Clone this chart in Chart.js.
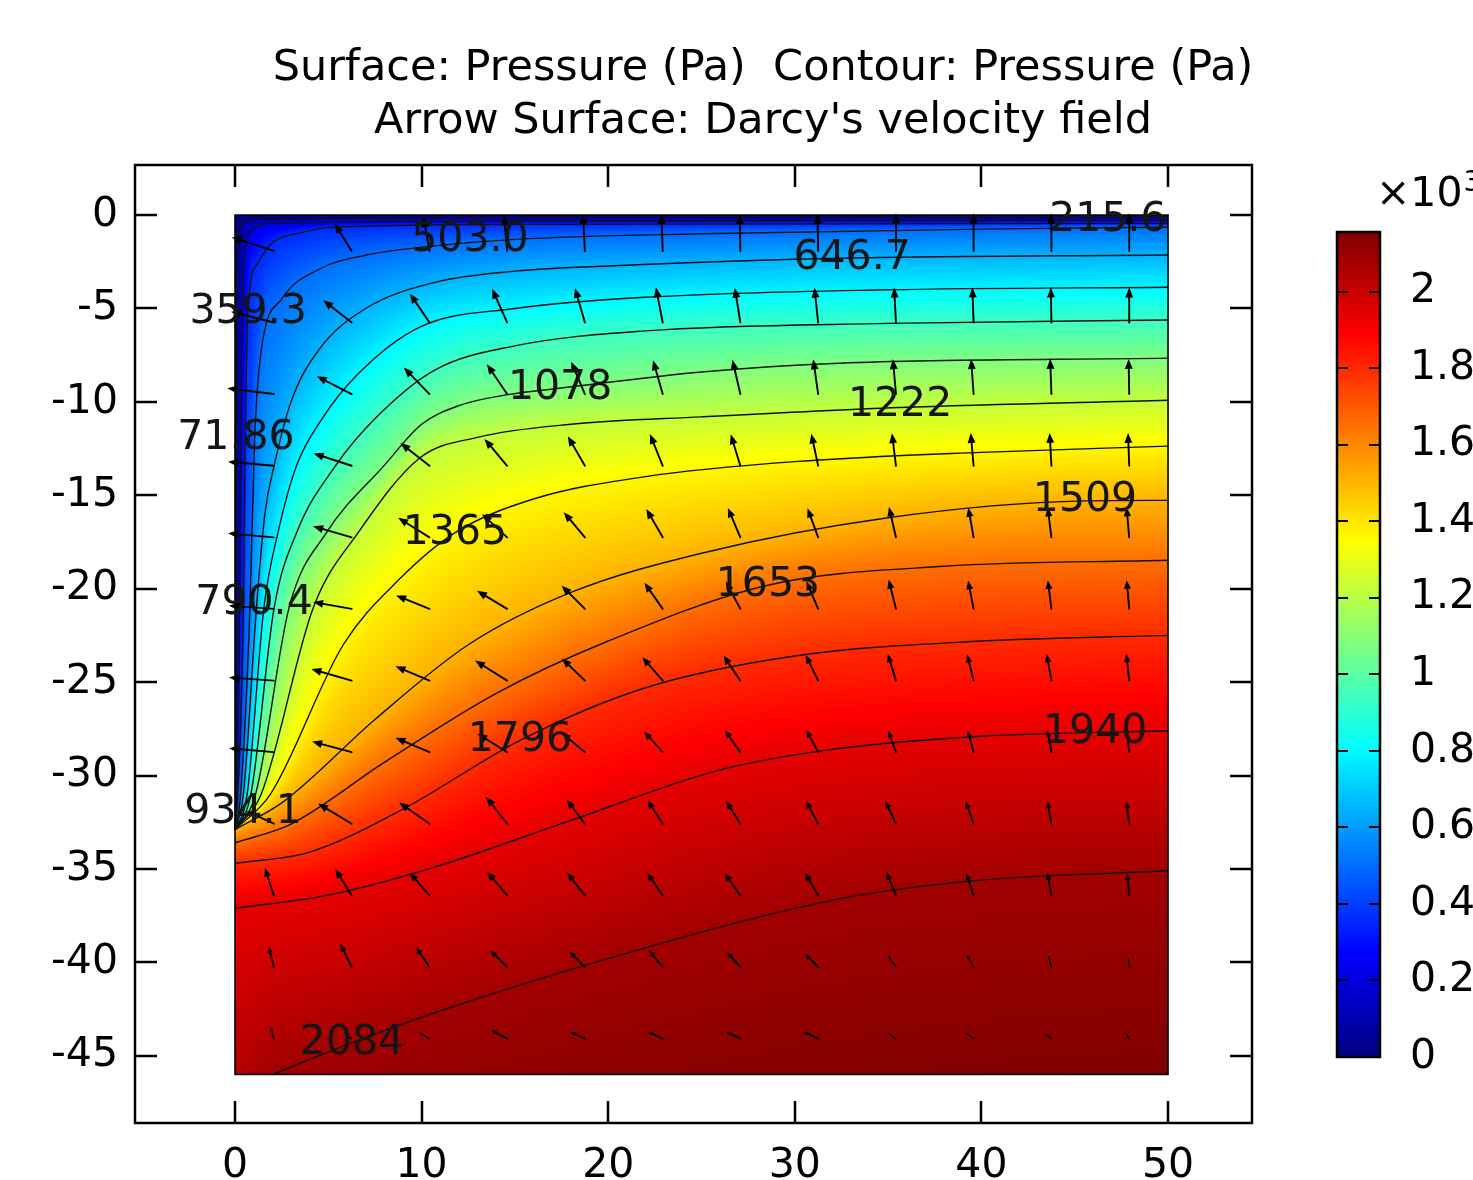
<!DOCTYPE html>
<html><head><meta charset="utf-8">
<script src="https://cdn.jsdelivr.net/npm/chart.js@4.4.0/dist/chart.umd.min.js"></script>
<style>html,body{margin:0;padding:0;background:#fff;overflow:hidden}canvas{display:block}</style>
</head><body>
<canvas id="c" width="1473" height="1180" style="width:1473px;height:1180px"></canvas>
<script>
// ================= DATA =================
const titleLines = ["Surface: Pressure (Pa)  Contour: Pressure (Pa)", "Arrow Surface: Darcy's velocity field"];
const xTicks = [0, 10, 20, 30, 40, 50];
const yTicks = [0, -5, -10, -15, -20, -25, -30, -35, -40, -45];
const xRange = [-5.36, 54.5];
const yRange = [-48.6, 2.68];
const domainX = [0, 50];
const domainY = [-46, 0];
const pressureRange = [0, 2156];
const cbTicks = [0, 0.2, 0.4, 0.6, 0.8, 1, 1.2, 1.4, 1.6, 1.8, 2];
const cbExponent = 3;
// boundary values
const topBoundaryP = 0;
const bottomX = [0, 2.1, 10, 20, 30, 40, 50];
const bottomP = [2040, 2084, 2108, 2128, 2142, 2150, 2155];
// contour levels and paths [x, y]
const contourLevels = [71.86, 215.6, 359.3, 503.0, 646.7, 790.4, 934.1, 1078, 1222, 1365, 1509, 1653, 1796, 1940, 2084];
const c0072 = [[0,-32.9],[0.03,-31],[0.08,-21],[0.1,-12],[0.13,-4],[0.2,-1.2],[0.45,-0.35],[2,-0.2],[20,-0.15],[50,-0.12]];
const c0216 = [[0,-32.9],[0.08,-31],[0.25,-21],[0.32,-12],[0.4,-5],[0.55,-2],[0.9,-0.8],[2,-0.45],[15,-0.32],[50,-0.27]];
const c0359 = [[0,-32.9],[0.15,-31],[0.45,-21],[0.55,-12],[0.7,-5],[1.2,-2.6],[2,-1.5],[3.5,-0.95],[5.2,-0.66],[15,-0.5],[50,-0.45]];
const c0503 = [[0,-32.9],[0.3,-31],[0.8,-21],[1.05,-12],[1.4,-7.3],[2.5,-4.5],[4.5,-2.9],[7,-2.15],[10.7,-1.65],[15,-1.3],[25,-1.0],[40,-0.75],[50,-0.65]];
const c0647 = [[0,-32.9],[0.45,-31],[1.15,-21],[1.6,-16],[2.1,-13.4],[3,-10],[4.5,-7.2],[7,-5],[10.7,-3.6],[15,-3.0],[20.6,-2.7],[33,-2.3],[50,-2.14]];
const c0790 = [[0,-32.9],[0.65,-31],[1.55,-21],[2.3,-17],[3.3,-13.4],[4.6,-11],[6.6,-8.5],[9.9,-6.0],[15,-5.0],[22,-4.4],[35,-4.0],[50,-3.86]];
const c0934 = [[0,-32.9],[0.85,-31],[2.1,-21],[3.3,-17],[5.4,-13.4],[7.6,-10.8],[10.7,-8.3],[15,-7.0],[22,-6.2],[35,-5.8],[50,-5.62]];
const c1078 = [[0,-32.9],[1.1,-31],[2.9,-21],[4.9,-17],[8.0,-13.4],[10,-11.2],[12,-10.2],[14.7,-9.6],[17.4,-9.27],[25,-8.4],[32.4,-7.93],[50,-7.66]];
const c1222 = [[0,-32.9],[1.4,-31],[4.2,-21],[6.6,-17],[9.9,-13.0],[13,-11.9],[18,-11.2],[25,-10.8],[35.6,-10.3],[50,-9.91]];
const c1365 = [[0,-32.9],[1.9,-31],[5.8,-23],[8.8,-19.5],[11.8,-17.0],[16,-15.2],[22,-14.0],[30,-13.2],[40,-12.7],[50,-12.37]];
const c1509 = [[0,-32.9],[2.6,-31.4],[7.5,-27],[12.5,-23],[18,-20.2],[25,-18.1],[35,-16.2],[45.5,-15.3],[50,-15.27]];
const c1653 = [[0,-33.6],[3,-32.6],[8,-29.3],[14,-25.6],[20,-22.8],[28.6,-19.8],[38,-18.8],[50,-18.48]];
const c1796 = [[0,-34.7],[4,-34.1],[9,-31.8],[15.3,-28.1],[22,-25.3],[30,-23.6],[40,-22.8],[50,-22.5]];
const c1940 = [[0,-37.1],[5,-36.4],[10.7,-34.9],[18,-32.4],[26,-29.7],[32,-28.6],[40,-27.9],[50,-27.6]];
const c2084 = [[2.1,-45.96],[6.3,-44.3],[10.7,-42.7],[20,-39.8],[32.4,-36.6],[40,-35.6],[50,-35.1]];
const contourPaths = [c0072, c0216, c0359, c0503, c0647, c0790, c0934, c1078, c1222, c1365, c1509, c1653, c1796, c1940, c2084];
// contour labels (text, anchor x, anchor y)
const labelText = ["503.0", "646.7", "215.6", "359.3", "71.86", "1078", "1222", "1365", "1509", "1653", "790.4", "1796", "1940", "934.1", "2084"];
const labelX = [12.59, 33.07, 46.78, 0.70, 0.05, 17.42, 35.64, 11.79, 45.55, 28.56, 1.02, 15.27, 46.09, 0.43, 6.27];
const labelY = [-1.34, -2.30, -0.27, -5.20, -11.94, -9.27, -10.18, -17.03, -15.27, -19.82, -20.78, -28.12, -27.69, -31.98, -44.35];
// Darcy velocity arrows: tails on a 12 x 12 grid; direction (deg, 90 = up) and relative magnitude
const arrowX = [2.08, 6.25, 10.42, 14.58, 18.75, 22.92, 27.08, 31.25, 35.42, 39.58, 43.75, 47.92];
const arrowY = [-1.92, -5.75, -9.58, -13.42, -17.25, -21.08, -24.92, -28.75, -32.58, -36.42, -40.25, -44.08];
const arrowAngle = [
  [162,122,100, 95, 93, 92, 91, 91, 90, 90, 90, 90],
  [166,142,124,114,106,101, 99, 96, 93, 92, 91, 90],
  [173,153,134,124,113,106,103, 98, 95, 94, 92, 91],
  [175,162,142,130,120,112,107,102, 97, 95, 93, 92],
  [175,164,148,137,130,120,113,110,103,100, 97, 95],
  [176,170,158,149,135,125,118,113,104,101, 97, 95],
  [176,164,157,148,136,131,124,116,107,104,100, 96],
  [175,165,157,148,140,132,125,118,110,105,100, 96],
  [155,149,145,128,127,123,122,118,115,109,100, 97],
  [108,122,131,130,128,125,125,120,112,108,100, 95],
  [104,116,124,135,135,130,132,135,125,120,105, 95],
  [105,140,150,152,155,155,155,155,145,145,145,120]
];
const arrowMag = [
  [0.98,0.71,0.76,0.80,0.82,0.82,0.82,0.82,0.84,0.84,0.84,0.84],
  [0.98,0.80,0.78,0.82,0.80,0.80,0.78,0.78,0.78,0.78,0.78,0.78],
  [1.04,0.87,0.82,0.80,0.78,0.78,0.78,0.78,0.78,0.78,0.78,0.78],
  [1.02,0.89,0.82,0.78,0.76,0.76,0.73,0.73,0.73,0.73,0.73,0.73],
  [1.02,0.89,0.82,0.76,0.73,0.73,0.71,0.69,0.69,0.67,0.67,0.67],
  [1.00,0.87,0.80,0.78,0.73,0.71,0.69,0.67,0.67,0.64,0.64,0.64],
  [1.00,0.93,0.82,0.84,0.71,0.69,0.67,0.64,0.62,0.60,0.60,0.60],
  [1.00,0.91,0.82,0.78,0.67,0.62,0.60,0.56,0.51,0.49,0.49,0.47],
  [0.67,0.87,0.82,0.76,0.67,0.62,0.60,0.58,0.56,0.53,0.51,0.51],
  [0.64,0.69,0.67,0.69,0.64,0.60,0.60,0.58,0.56,0.53,0.51,0.49],
  [0.47,0.58,0.53,0.53,0.49,0.49,0.44,0.40,0.31,0.31,0.27,0.22],
  [0.27,0.22,0.27,0.40,0.36,0.36,0.36,0.36,0.22,0.22,0.18,0.11]
];

// ================= RENDERING =================
const FONT_FAMILY = '"DejaVu Sans", "Liberation Sans", sans-serif';
const TEXT_SIZE = 41;
Chart.defaults.font.family = FONT_FAMILY;
Chart.defaults.color = '#000';

function jet(t) {
  t = Math.max(0, Math.min(1, t));
  const c = v => Math.max(0, Math.min(1, v));
  return [c(1.5 - Math.abs(4 * t - 3)) * 255, c(1.5 - Math.abs(4 * t - 2)) * 255, c(1.5 - Math.abs(4 * t - 1)) * 255];
}
// same monotone cubic that Chart.js uses for cubicInterpolationMode:'monotone'
function monotone(pts) {
  const n = pts.length, X = pts.map(p => p[0]), Y = pts.map(p => p[1]);
  const d = new Array(n).fill(0), m = new Array(n);
  for (let i = 0; i < n; i++) {
    if (i < n - 1) { const dx = X[i + 1] - X[i]; d[i] = dx !== 0 ? (Y[i + 1] - Y[i]) / dx : 0; }
    m[i] = i === 0 ? d[0] : i === n - 1 ? d[n - 2] : (Math.sign(d[i - 1]) !== Math.sign(d[i]) ? 0 : (d[i - 1] + d[i]) / 2);
  }
  for (let i = 0; i < n - 1; i++) {
    if (Math.abs(d[i]) < 1e-12) { m[i] = m[i + 1] = 0; continue; }
    const a = m[i] / d[i], b = m[i + 1] / d[i], s = a * a + b * b;
    if (s <= 9) continue;
    const tau = 3 / Math.sqrt(s);
    m[i] = a * tau * d[i]; m[i + 1] = b * tau * d[i];
  }
  return { X, Y, m };
}
function evalCurve(c, x) {
  const { X, Y, m } = c, n = X.length;
  if (x < X[0] || x > X[n - 1]) return null;
  let i = 0; while (i < n - 2 && x > X[i + 1]) i++;
  const h = X[i + 1] - X[i]; if (h <= 0) return Y[i];
  const t = (x - X[i]) / h, t2 = t * t, t3 = t2 * t;
  return (2 * t3 - 3 * t2 + 1) * Y[i] + (t3 - 2 * t2 + t) * h * m[i] + (-2 * t3 + 3 * t2) * Y[i + 1] + (t3 - t2) * h * m[i + 1];
}
function lerpArr(xs, ys, x) {
  if (x <= xs[0]) return ys[0];
  for (let i = 0; i < xs.length - 1; i++) if (x <= xs[i + 1]) return ys[i] + (ys[i + 1] - ys[i]) * (x - xs[i]) / (xs[i + 1] - xs[i]);
  return ys[ys.length - 1];
}
const curves = contourPaths.map(monotone);

const heatmapPlugin = {
  id: 'heatmap',
  beforeDatasetsDraw(chart) {
    const ctx = chart.ctx, xs = chart.scales.x, ys = chart.scales.y;
    const px0 = Math.round(xs.getPixelForValue(domainX[0])), px1 = Math.round(xs.getPixelForValue(domainX[1]));
    const py0 = Math.round(ys.getPixelForValue(domainY[1])), py1 = Math.round(ys.getPixelForValue(domainY[0]));
    const w = px1 - px0, h = py1 - py0;
    const off = document.createElement('canvas'); off.width = w; off.height = h;
    const octx = off.getContext('2d'); const img = octx.createImageData(w, h);
    const span = pressureRange[1] - pressureRange[0];
    for (let i = 0; i < w; i++) {
      const x = xs.getValueForPixel(px0 + i + 0.5);
      const nodes = [[domainY[1], topBoundaryP]];
      curves.forEach((c, k) => { const y = evalCurve(c, x); if (y !== null) nodes.push([y, contourLevels[k]]); });
      nodes.push([domainY[0], lerpArr(bottomX, bottomP, x)]);
      nodes.sort((a, b) => b[0] - a[0]);
      let j = 0;
      for (let r = 0; r < h; r++) {
        const y = ys.getValueForPixel(py0 + r + 0.5);
        while (j < nodes.length - 2 && y < nodes[j + 1][0]) j++;
        const a = nodes[j], b = nodes[j + 1];
        let t = b[0] === a[0] ? 0 : (y - a[0]) / (b[0] - a[0]);
        t = Math.max(0, Math.min(1, t));
        const p = a[1] + t * (b[1] - a[1]);
        const col = jet((p - pressureRange[0]) / span);
        const o = (r * w + i) * 4;
        img.data[o] = col[0]; img.data[o + 1] = col[1]; img.data[o + 2] = col[2]; img.data[o + 3] = 255;
      }
    }
    octx.putImageData(img, 0, 0);
    ctx.drawImage(off, px0, py0);
  }
};

const overlayPlugin = {
  id: 'overlay',
  afterDatasetsDraw(chart) {
    const ctx = chart.ctx, xs = chart.scales.x, ys = chart.scales.y;
    ctx.save();
    ctx.strokeStyle = '#000'; ctx.lineWidth = 1.6;
    const dx0 = xs.getPixelForValue(domainX[0]), dx1 = xs.getPixelForValue(domainX[1]);
    const dy0 = ys.getPixelForValue(domainY[1]), dy1 = ys.getPixelForValue(domainY[0]);
    ctx.strokeRect(dx0, dy0, dx1 - dx0, dy1 - dy0);
    // arrows
    const ARROW_SCALE = 45;
    ctx.fillStyle = '#000'; ctx.strokeStyle = '#000'; ctx.lineCap = 'round';
    for (let r = 0; r < arrowY.length; r++) for (let c = 0; c < arrowX.length; c++) {
      const tx = xs.getPixelForValue(arrowX[c]), ty = ys.getPixelForValue(arrowY[r]);
      const a = arrowAngle[r][c] * Math.PI / 180, L = arrowMag[r][c] * ARROW_SCALE;
      const ux = Math.cos(a), uy = -Math.sin(a);
      const hx = tx + ux * L, hy = ty + uy * L;
      const hl = Math.min(10, 0.3 * L), hw = hl * 0.4;
      ctx.lineWidth = L < 15 ? 1.4 : 1.9;
      ctx.beginPath(); ctx.moveTo(tx, ty); ctx.lineTo(hx - ux * hl * 0.6, hy - uy * hl * 0.6); ctx.stroke();
      ctx.beginPath(); ctx.moveTo(hx, hy);
      ctx.lineTo(hx - ux * hl - uy * hw, hy - uy * hl + ux * hw);
      ctx.lineTo(hx - ux * hl + uy * hw, hy - uy * hl - ux * hw);
      ctx.closePath(); ctx.fill();
    }
    // contour labels
    ctx.font = TEXT_SIZE + 'px ' + FONT_FAMILY; ctx.textAlign = 'center'; ctx.textBaseline = 'middle';
    ctx.fillStyle = '#151515';
    labelText.forEach((s, i) => ctx.fillText(s, xs.getPixelForValue(labelX[i]), ys.getPixelForValue(labelY[i])));
    ctx.restore();
  },
  afterDraw(chart) {
    const ctx = chart.ctx, xs = chart.scales.x, ys = chart.scales.y, ca = chart.chartArea;
    ctx.save();
    ctx.strokeStyle = '#000'; ctx.lineWidth = 2.5;
    ctx.strokeRect(ca.left, ca.top, ca.right - ca.left, ca.bottom - ca.top);
    const TL = 22;
    ctx.lineWidth = 2.5; ctx.beginPath();
    xTicks.forEach(v => { const p = Math.round(xs.getPixelForValue(v)); ctx.moveTo(p, ca.bottom); ctx.lineTo(p, ca.bottom - TL); ctx.moveTo(p, ca.top); ctx.lineTo(p, ca.top + TL); });
    yTicks.forEach(v => { const p = Math.round(ys.getPixelForValue(v)); ctx.moveTo(ca.left, p); ctx.lineTo(ca.left + TL, p); ctx.moveTo(ca.right, p); ctx.lineTo(ca.right - TL, p); });
    ctx.stroke();
    // colorbar
    const cb = { left: 1337, right: 1380, top: 232, bottom: 1057 };
    const vToPx = v => cb.bottom - (v - pressureRange[0]) / (pressureRange[1] - pressureRange[0]) * (cb.bottom - cb.top);
    for (let py = cb.top; py < cb.bottom; py++) {
      const v = pressureRange[0] + (cb.bottom - py - 0.5) / (cb.bottom - cb.top) * (pressureRange[1] - pressureRange[0]);
      const col = jet((v - pressureRange[0]) / (pressureRange[1] - pressureRange[0]));
      ctx.fillStyle = `rgb(${col[0] | 0},${col[1] | 0},${col[2] | 0})`;
      ctx.fillRect(cb.left, py, cb.right - cb.left, 1);
    }
    ctx.lineWidth = 2.5; ctx.strokeRect(cb.left, cb.top, cb.right - cb.left, cb.bottom - cb.top);
    ctx.lineWidth = 2; ctx.beginPath();
    cbTicks.forEach(t => { const p = Math.round(vToPx(t * Math.pow(10, cbExponent))); if (p > cb.top + 2 && p < cb.bottom - 2) { ctx.moveTo(cb.left, p); ctx.lineTo(cb.left + 11, p); ctx.moveTo(cb.right, p); ctx.lineTo(cb.right - 11, p); } });
    ctx.stroke();
    ctx.fillStyle = '#000'; ctx.font = TEXT_SIZE + 'px ' + FONT_FAMILY; ctx.textAlign = 'left'; ctx.textBaseline = 'middle';
    cbTicks.forEach(t => ctx.fillText(String(t), 1410, vToPx(t * Math.pow(10, cbExponent))));
    ctx.fillText('\u00d710', 1376, 195);
    const wx = ctx.measureText('\u00d710').width;
    ctx.font = Math.round(TEXT_SIZE * 0.7) + 'px ' + FONT_FAMILY;
    ctx.fillText(String(cbExponent), 1376 + wx + 1, 183);
    // title
    ctx.font = '43px ' + FONT_FAMILY; ctx.textAlign = 'center'; ctx.textBaseline = 'alphabetic';
    ctx.fillText(titleLines[0], 763, 80);
    ctx.fillText(titleLines[1], 763, 133);
    ctx.restore();
  }
};

const datasets = contourPaths.map(path => ({
  data: path.map(([x, y]) => ({ x, y })),
  showLine: true, borderColor: '#111', borderWidth: 1.4, pointRadius: 0, pointHoverRadius: 0,
  cubicInterpolationMode: 'monotone', fill: false
}));

new Chart(document.getElementById('c').getContext('2d'), {
  type: 'scatter',
  data: { datasets },
  options: {
    responsive: false, animation: false, events: [],
    layout: { padding: { left: 0, right: 221, top: 165, bottom: 0 } },
    plugins: { legend: { display: false }, title: { display: false }, tooltip: { enabled: false } },
    scales: {
      x: {
        type: 'linear', min: xRange[0], max: xRange[1],
        grid: { display: false, drawTicks: false }, border: { display: false },
        afterBuildTicks: s => { s.ticks = xTicks.map(v => ({ value: v })); },
        afterFit: s => { s.height = 57; },
        ticks: { font: { size: TEXT_SIZE }, color: '#000', padding: 19, maxRotation: 0, autoSkip: false, callback: v => String(v) }
      },
      y: {
        type: 'linear', min: yRange[0], max: yRange[1],
        grid: { display: false, drawTicks: false }, border: { display: false },
        afterBuildTicks: s => { s.ticks = yTicks.map(v => ({ value: v })); },
        afterFit: s => { s.width = 135; },
        ticks: { font: { size: TEXT_SIZE }, color: '#000', padding: 17, autoSkip: false, callback: v => String(v) }
      }
    }
  },
  plugins: [heatmapPlugin, overlayPlugin]
});
</script>
</body></html>
